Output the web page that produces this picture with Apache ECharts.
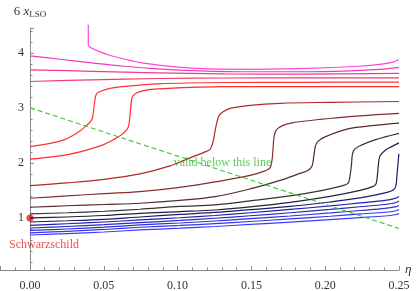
<!DOCTYPE html>
<html>
<head>
<meta charset="utf-8">
<script src="https://cdn.jsdelivr.net/npm/echarts@6/dist/echarts.min.js"></script>
<style>html,body{margin:0;padding:0;background:#fff}#c{width:417px;height:291px}</style>
</head>
<body>
<div id="c"></div>
<script>
// ---- data (eta, 6 x_LSO) ----
const etaM = [0.0395,0.0395,0.0407,0.0440,0.0528,0.0644,0.0759,0.0982,0.1206,0.1545,0.1883,0.2222,0.2371,0.2453,0.25];
const valM = [4.509,4.145,4.1,4.055,3.964,3.882,3.818,3.745,3.709,3.7,3.715,3.755,3.791,3.827,3.873];

const etaP2 = [0,0.0203,0.042,0.0644,0.0867,0.1152,0.1491,0.1829,0.2168,0.2371,0.25];
const valP2 = [3.945,3.882,3.818,3.755,3.709,3.673,3.655,3.655,3.673,3.7,3.736];

const etaP3 = [0,0.042,0.0867,0.1321,0.1829,0.25];
const valP3 = [3.691,3.664,3.636,3.618,3.613,3.627];

const etaP4 = [0,0.042,0.0867,0.1321,0.1829,0.25];
const valP4 = [3.478,3.509,3.533,3.542,3.545,3.545];

const etaR1 = [0,0.01355,0.0237,0.0316,0.0373,0.0418,0.043,0.044,0.0451,0.0474,0.0542,0.0644,0.0867,0.1321,0.1829,0.25];
const valR1 = [2.296,2.355,2.427,2.54,2.655,2.782,2.927,3.145,3.255,3.296,3.355,3.391,3.436,3.46,3.464,3.467];

const etaR2 = [0,0.0203,0.0339,0.0495,0.0576,0.0623,0.0664,0.0678,0.0688,0.0698,0.0725,0.0779,0.0867,0.1321,0.1829,0.25];
const valR2 = [2.067,2.127,2.2,2.327,2.436,2.518,2.636,2.873,3.145,3.218,3.273,3.318,3.345,3.385,3.387,3.387];

const etaK1 = [0,0.0251,0.0501,0.0745,0.0949,0.1084,0.1186,0.122,0.124,0.1253,0.1267,0.128,0.1308,0.1355,0.1491,0.1694,0.2033,0.25];
const valK1 = [1.587,1.636,1.7,1.8,1.945,2.091,2.2,2.245,2.382,2.564,2.745,2.855,2.927,2.991,3.045,3.082,3.1,3.115];

const etaK2 = [0,0.0251,0.0501,0.0745,0.1016,0.1253,0.1491,0.1592,0.1626,0.164,0.1646,0.1653,0.1667,0.1707,0.1775,0.1965,0.2236,0.25];
const valK2 = [1.358,1.4,1.442,1.478,1.555,1.655,1.773,1.855,1.909,2.055,2.236,2.455,2.591,2.673,2.727,2.791,2.855,2.9];

const etaK3 = [0,0.0251,0.0501,0.0745,0.1016,0.1253,0.1491,0.1694,0.1829,0.1883,0.1911,0.1924,0.1934,0.1951,0.1999,0.2154,0.2337,0.25];
const valK3 = [1.195,1.222,1.245,1.267,1.318,1.387,1.527,1.682,1.809,1.864,1.945,2.145,2.309,2.391,2.473,2.618,2.682,2.722];

const etaK4 = [0,0.0251,0.0501,0.0745,0.1016,0.1253,0.1491,0.1762,0.1965,0.21,0.2154,0.2168,0.2178,0.2185,0.2202,0.2249,0.2337,0.25];
const valK4 = [1.073,1.095,1.122,1.158,1.209,1.236,1.309,1.4,1.491,1.573,1.627,1.764,1.964,2.164,2.255,2.327,2.418,2.536];

const etaK5 = [0,0.0251,0.0501,0.0745,0.1016,0.1253,0.1491,0.1762,0.2033,0.2236,0.2317,0.2344,0.2354,0.2361,0.2371,0.2405,0.2453,0.25];
const valK5 = [1.0,1.018,1.045,1.085,1.115,1.145,1.2,1.282,1.391,1.5,1.564,1.618,1.782,1.982,2.127,2.227,2.3,2.364];

const etaN = [0,0.0251,0.0501,0.0745,0.1016,0.1253,0.1491,0.1762,0.2033,0.2236,0.2405,0.2466,0.248,0.2486,0.2493,0.2498,0.25];
const valN = [0.927,0.949,0.976,1.018,1.064,1.1,1.15,1.21,1.29,1.364,1.455,1.518,1.6,1.764,1.982,2.127,2.164];

const etaB = [0,0.0251,0.0501,0.0745,0.1016,0.1253,0.1491,0.1762,0.2033,0.2236,0.2405,0.2473,0.25];
const valB1 = [0.867,0.895,0.927,0.964,1.004,1.045,1.095,1.155,1.218,1.273,1.318,1.355,1.391];
const valB2 = [0.818,0.845,0.878,0.915,0.955,0.995,1.04,1.095,1.155,1.204,1.245,1.276,1.309];
const valB3 = [0.773,0.8,0.833,0.873,0.909,0.945,0.987,1.036,1.091,1.136,1.173,1.2,1.227];
const valB4 = [0.731,0.758,0.791,0.831,0.864,0.898,0.936,0.982,1.031,1.073,1.104,1.127,1.155];
const valB5 = [0.691,0.716,0.745,0.782,0.815,0.845,0.882,0.924,0.969,1.005,1.036,1.058,1.082];

const etaValid = [0, 0.25];
const valValid = [3.0, 0.81];

const schwarzschild = [0, 1.0];
const textValid = { text: 'valid below this line', eta: 0.1304, val: 2.0 };
const textSchw = { text: 'Schwarzschild', eta: 0.0095, val: 0.51 };

// ---- styling ----
const curves = [
  [etaM, valM, '#ff44dd'],
  [etaP2, valP2, '#ee3cc0'],
  [etaP3, valP3, '#f03c90'],
  [etaP4, valP4, '#f23c6a'],
  [etaR1, valR1, '#ff3333'],
  [etaR2, valR2, '#ff2a2a'],
  [etaK1, valK1, '#b02a2a'],
  [etaK2, valK2, '#862e2e'],
  [etaK3, valK3, '#552b2b'],
  [etaK4, valK4, '#333333'],
  [etaK5, valK5, '#22223a'],
  [etaN, valN, '#1c1c6e'],
  [etaB, valB1, '#2222a8'],
  [etaB, valB2, '#2a2ac4'],
  [etaB, valB3, '#3030d8'],
  [etaB, valB4, '#3636ea'],
  [etaB, valB5, '#3c3cff']
];

const serif = '"Liberation Serif","DejaVu Serif",serif';
const series = curves.map(([e, v, c]) => ({
  type: 'line',
  data: e.map((x, i) => [x, v[i]]),
  symbol: 'none',
  smooth: 0.35,
  clip: false,
  silent: true,
  lineStyle: { color: c, width: 1.2 }
}));

series.push({
  type: 'line',
  data: etaValid.map((x, i) => [x, valValid[i]]),
  symbol: 'none',
  silent: true,
  lineStyle: { color: '#33cc33', width: 1.1, type: [5, 3] }
});
series.push({
  type: 'scatter',
  data: [schwarzschild],
  symbol: 'circle',
  symbolSize: 7,
  itemStyle: { color: '#ee1111' },
  silent: true
});
series.push({
  type: 'scatter',
  data: [
    { value: [textValid.eta, textValid.val], name: textValid.text, label: { color: '#33bb33' } },
    { value: [textSchw.eta, textSchw.val], name: textSchw.text, label: { color: '#ee2222' } }
  ],
  symbolSize: 0,
  silent: true,
  label: {
    show: true,
    position: 'inside',
    formatter: p => p.name,
    fontFamily: serif,
    fontSize: 12
  }
});

const chart = echarts.init(document.getElementById('c'), null, { renderer: 'canvas' });
chart.setOption({
  animation: false,
  backgroundColor: '#fff',
  grid: { left: 0, right: 18, top: 28, bottom: 21, containLabel: false, outerBoundsMode: 'none' },
  xAxis: {
    type: 'value',
    min: -0.0203,
    max: 0.25,
    splitLine: { show: false },
    axisLine: { lineStyle: { color: '#888', width: 1 } },
    axisTick: { inside: true, length: 4, lineStyle: { color: '#888' } },
    minorTick: { show: true, splitNumber: 5, length: 2.5, lineStyle: { color: '#888' } },
    axisLabel: {
      margin: 10, fontFamily: serif, fontSize: 12, color: '#333',
      formatter: v => (v < -1e-9 ? '' : v.toFixed(2))
    },
    name: 'η',
    nameLocation: 'end',
    nameGap: 6,
    nameTextStyle: { fontFamily: serif, fontStyle: 'italic', fontSize: 13, color: '#333', padding: [0, 0, 5, 0] }
  },
  yAxis: {
    type: 'value',
    min: 0.055,
    max: 4.45,
    position: 'left',
    offset: -30,
    splitLine: { show: false },
    axisLine: { onZero: false, lineStyle: { color: '#888', width: 1 } },
    axisTick: { inside: true, length: 4, lineStyle: { color: '#888' } },
    minorTick: { show: true, splitNumber: 5, length: 2.5, lineStyle: { color: '#888' } },
    axisLabel: {
      margin: 6, fontFamily: serif, fontSize: 12, color: '#333',
      formatter: v => (Math.abs(v - Math.round(v)) < 1e-9 ? String(Math.round(v)) : '')
    },
    name: '{a|6 }{b|x}{c|LSO}',
    nameLocation: 'end',
    nameGap: 9,
    nameTextStyle: {
      color: '#333',
      rich: {
        a: { fontFamily: serif, fontSize: 13, color: '#333' },
        b: { fontFamily: serif, fontSize: 13, fontStyle: 'italic', color: '#333' },
        c: { fontFamily: serif, fontSize: 9, color: '#333', padding: [6, 0, 0, 0] }
      }
    }
  },
  series: series
});
</script>
</body>
</html>
